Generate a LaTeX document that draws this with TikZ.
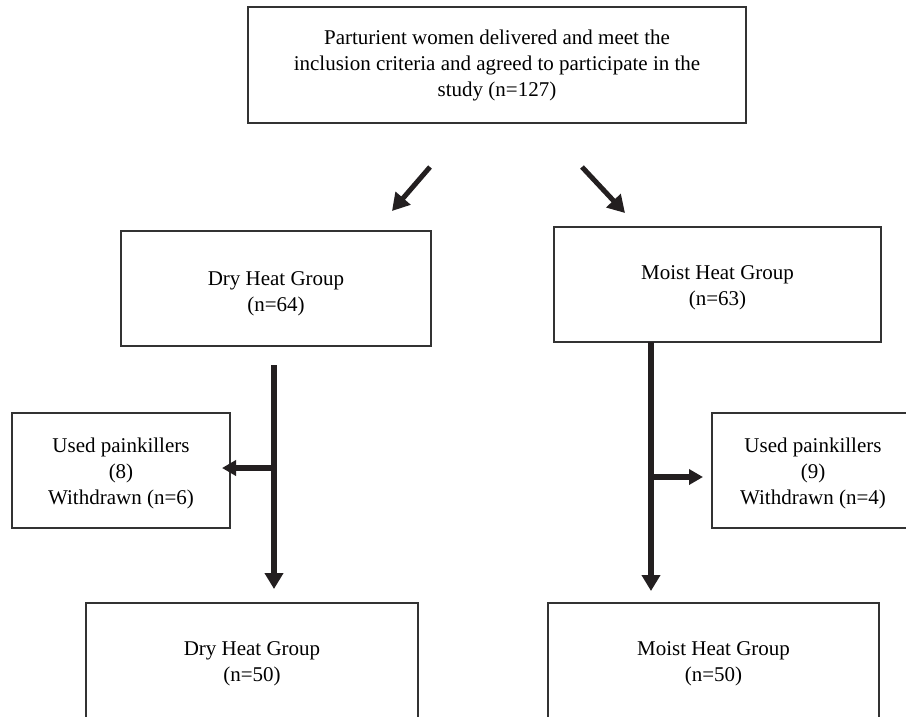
\documentclass[tikz,border=0pt]{standalone}
\usepackage{fontspec}
\setmainfont{Liberation Serif}
\usetikzlibrary{arrows.meta}
\definecolor{boxc}{HTML}{333333}
\definecolor{arrc}{HTML}{231F20}
\begin{document}
\begin{tikzpicture}[x=1pt,y=-1pt,
  txt/.style={align=center, inner sep=0pt,
    font=\fontsize{21}{26}\selectfont, text=black},
  box/.style={draw=boxc, line width=1.4pt, txt},
  arr/.style={draw=arrc, line width=5.5pt,
    -{Triangle[length=16pt,width=18pt]}},
  brarr/.style={draw=arrc, line width=5.5pt,
    -{Triangle[length=14pt,width=15pt]}},
  diag/.style={draw=arrc, line width=5pt,
    -{Triangle[length=17pt,width=19pt]}}]
\useasboundingbox (0,0) rectangle (906,716);
\clip (0,0) rectangle (906,716);
\fill[white] (0,0) rectangle (906,716);

\node[box, minimum width=498pt, minimum height=116pt] (top) at (497,65)
  {Parturient women delivered and meet the\\inclusion criteria and agreed to participate in the\\study (n=127)};

\node[box, minimum width=310pt, minimum height=115pt,
  label={[txt, yshift=-5pt]center:Dry Heat Group\\(n=64)}] (dry1) at (276,288.5) {};
\node[box, minimum width=327pt, minimum height=115pt,
  label={[txt, yshift=-3pt]center:Moist Heat Group\\(n=63)}] (moist1) at (717.5,284.5) {};

\node[box, minimum width=218pt, minimum height=115pt,
  label={[txt, yshift=-3pt]center:Used painkillers\\(8)\\Withdrawn (n=6)}] (pain1) at (121,470.5) {};
\node[box, minimum width=202pt, minimum height=115pt,
  label={[txt, yshift=-3pt]center:Used painkillers\\(9)\\Withdrawn (n=4)}] (pain2) at (813,470.5) {};

\node[box, minimum width=332pt, minimum height=117pt,
  label={[txt, yshift=-2pt]center:Dry Heat Group\\(n=50)}] (dry2) at (252,661.5) {};
\node[box, minimum width=331pt, minimum height=117pt,
  label={[txt, yshift=-2pt]center:Moist Heat Group\\(n=50)}] (moist2) at (713.5,661.5) {};

% diagonal arrows
\coordinate (dls) at (430,167);
\coordinate (dle) at (392,211);
\coordinate (drs) at (582,167);
\coordinate (dre) at (625,213);
\draw[diag] (dls) -- (dle);
\draw[diag] (drs) -- (dre);

% dry column
\coordinate (dtop) at (274,365);
\coordinate (dbot) at (274,589);
\coordinate (dbr) at (274,468);
\coordinate (dbrend) at (222,468);
\draw[arr] (dtop) -- (dbot);
\draw[brarr] (dbr) -- (dbrend);

% moist column
\coordinate (mtop) at (651,342);
\coordinate (mbot) at (651,591);
\coordinate (mbr) at (651,477);
\coordinate (mbrend) at (703,477);
\draw[arr] (mtop) -- (mbot);
\draw[brarr] (mbr) -- (mbrend);
\end{tikzpicture}
\end{document}
